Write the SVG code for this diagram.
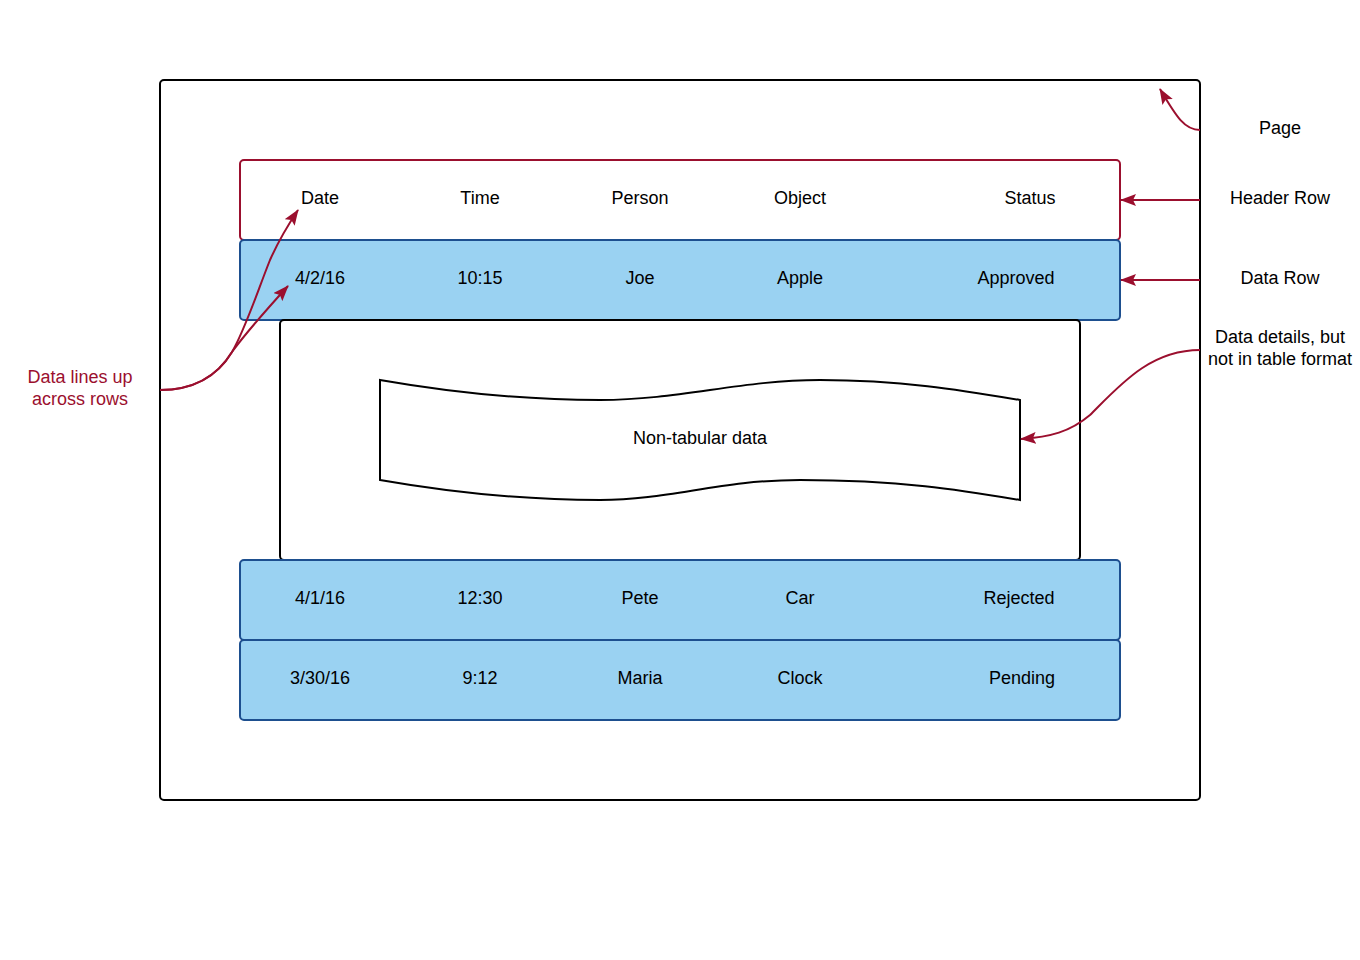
<svg xmlns="http://www.w3.org/2000/svg" width="1360" height="960" viewBox="0 0 1360 960">
<style>
text{font-family:"Liberation Sans",Arial,sans-serif;font-size:18px;fill:#000;text-anchor:middle}
.red{fill:#9b0f2e}
.row{fill:#9ad2f2;stroke:#1d4f8f;stroke-width:2}
.conn{fill:none;stroke:#9b0f2e;stroke-width:2}
</style>
<defs>
<marker id="ah2" viewBox="0 0 16 12" refX="15" refY="6" markerWidth="16" markerHeight="12" markerUnits="userSpaceOnUse" orient="auto"><path d="M0,0 L16,6 L0,12 L3,6 Z" fill="#9b0f2e"/></marker>
</defs>
<rect width="1360" height="960" fill="#fff"/>
<g id="page"><rect x="160" y="80" width="1040" height="720" rx="4" fill="none" stroke="#000" stroke-width="2"/></g>
<g id="header-row"><rect x="240" y="160" width="880" height="80" rx="4" fill="#fff" stroke="#9b0f2e" stroke-width="2"/>
<text x="320" y="204">Date</text><text x="480" y="204">Time</text><text x="640" y="204">Person</text><text x="800" y="204">Object</text><text x="1030" y="204">Status</text></g>
<g id="row1"><rect class="row" x="240" y="240" width="880" height="80" rx="4"/>
<text x="320" y="284">4/2/16</text><text x="480" y="284">10:15</text><text x="640" y="284">Joe</text><text x="800" y="284">Apple</text><text x="1016" y="284">Approved</text></g>
<g id="details"><rect x="280" y="320" width="800" height="240" rx="4" fill="#fff" stroke="#000" stroke-width="2"/></g>
<g id="nontabular"><path d="M380,380 C460,394 530,400 600,400 C680,400 740,380 820,380 C900,380 960,390 1020,400 L1020,500 C960,490 900,480 800,480 C720,480 670,500 600,500 C530,500 460,494 380,480 Z" fill="#fff" stroke="#000" stroke-width="2"/>
<text x="700" y="444">Non-tabular data</text></g>
<g id="row2"><rect class="row" x="240" y="560" width="880" height="80" rx="4"/>
<text x="320" y="604">4/1/16</text><text x="480" y="604">12:30</text><text x="640" y="604">Pete</text><text x="800" y="604">Car</text><text x="1019" y="604">Rejected</text></g>
<g id="row3"><rect class="row" x="240" y="640" width="880" height="80" rx="4"/>
<text x="320" y="684">3/30/16</text><text x="480" y="684">9:12</text><text x="640" y="684">Maria</text><text x="800" y="684">Clock</text><text x="1022" y="684">Pending</text></g>
<g id="labels">
<text x="1280" y="134">Page</text>
<text x="1280" y="204">Header Row</text>
<text x="1280" y="284">Data Row</text>
<text x="1280" y="343">Data details, but</text>
<text x="1280" y="365">not in table format</text>
<text class="red" x="80" y="383">Data lines up</text>
<text class="red" x="80" y="405">across rows</text>
</g>
<g id="connectors">
<path class="conn" marker-end="url(#ah2)" d="M1200,130 C1185,130 1177,118 1160,89"/>
<path class="conn" marker-end="url(#ah2)" d="M1200,200 L1121,200"/>
<path class="conn" marker-end="url(#ah2)" d="M1200,280 L1121,280"/>
<path class="conn" marker-end="url(#ah2)" d="M1200,350 C1150,350 1120,385 1090,415 C1070,432 1050,437 1021,439"/>
<path class="conn" marker-end="url(#ah2)" d="M160,390 C195,390 218,375 232,352 C245,330 258,290 270,260 C278,242 286,228 298,210"/>
<path class="conn" marker-end="url(#ah2)" d="M160,390 C195,390 218,375 232,352 C248,330 268,308 288,286"/>
</g>
</svg>
